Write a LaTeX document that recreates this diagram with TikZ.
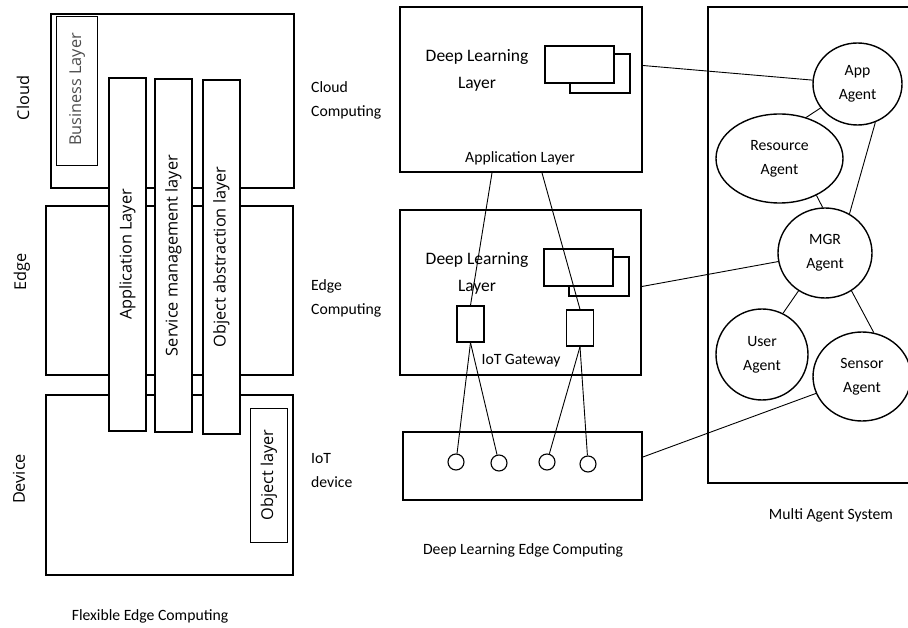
\documentclass[tikz,border=0pt]{standalone}
\usepackage{fontspec}
\setmainfont{Carlito}
\newfontfamily\opensans{Open Sans}
\usetikzlibrary{shapes.geometric,calc}
\tikzset{
  box/.style={draw, line width=1.8pt, inner sep=0pt},
  thinbox/.style={draw, line width=1pt, inner sep=0pt},
  bar/.style={draw, fill=white, line width=1.3pt, inner sep=0pt, rotate=90, font=\opensans\fontsize{16.3}{20}\selectfont},
  vlabel/.style={rotate=90, inner sep=0pt, font=\opensans\fontsize{16.3}{20}\selectfont},
  lbl/.style={align=left, inner sep=0pt, font=\fontsize{15.7}{24}\selectfont},
  dltext/.style={align=center, inner sep=0pt, font=\fontsize{17.5}{27}\selectfont},
  doc/.style={draw, fill=white, line width=1.6pt, inner sep=0pt},
  gw/.style={draw, line width=1.4pt, inner sep=0pt, minimum width=27pt, minimum height=36pt},
  port/.style={circle, draw, line width=1.1pt, minimum size=16pt, inner sep=0pt},
  agent/.style={ellipse, draw, line width=1.4pt, align=center, inner sep=0pt, font=\fontsize{15.7}{24}\selectfont},
  link/.style={line width=0.9pt}
}
\begin{document}
\begin{tikzpicture}[x=1pt,y=-1pt]
  \useasboundingbox (0,0) rectangle (908,628);
  \clip (0,0) rectangle (908,628);

  % flexible edge computing
  \node[box, minimum width=243, minimum height=174] (cloudbox) at (172.5,101) {};
  \node[box, minimum width=247, minimum height=169] (edgebox) at (169.5,290.5) {};
  \node[box, minimum width=247, minimum height=180] (devbox) at (169.5,485) {};
  \node[thinbox, minimum width=41, minimum height=149] (business) at (76.5,91.5) {};
  \node[vlabel, text=black!70] (businesstxt) at (77,89.5) {Business Layer};
  \node[thinbox, minimum width=37, minimum height=134] (objlayer) at (268.5,475) {};
  \node[vlabel] (objlayertxt) at (269,475) {Object layer};
  \node[bar, minimum width=353, minimum height=37] (appbar) at (127.5,254.5) {Application Layer};
  \node[bar, minimum width=353, minimum height=37] (svcbar) at (173.5,255.5) {Service management layer};
  \node[bar, minimum width=354, minimum height=37] (objbar) at (221.5,257) {Object abstraction layer};
  \node[vlabel] (cloudlbl) at (23,98) {Cloud};
  \node[vlabel] (edgelbl) at (22,272) {Edge};
  \node[vlabel] (devlbl) at (19,479) {Device};
  \node[lbl] (flexlbl) at (150,616) {Flexible Edge Computing};

  % deep learning edge computing
  \node[box, minimum width=242, minimum height=165] (cloudcomp) at (521,89.5) {};
  \node[box, minimum width=241, minimum height=165] (edgecomp) at (520.5,292.5) {};
  \node[box, minimum width=239, minimum height=68] (iotdev) at (522.5,466) {};
  \node[dltext] (dlcloud) at (477,70) {Deep Learning\\Layer};
  \node[dltext] (dledge) at (477,273) {Deep Learning\\Layer};
  \node[doc, minimum width=60, minimum height=39] (cloudbk) at (600,73.5) {};
  \node[doc, minimum width=69, minimum height=37] (cloudfr) at (579.5,64.5) {};
  \node[doc, minimum width=60, minimum height=39] (edgebk) at (599,276.5) {};
  \node[doc, minimum width=69, minimum height=37] (edgefr) at (578.5,267.5) {};
  \node[lbl] (applbl) at (520,158) {Application Layer};
  \node[gw] (gw1) at (470.5,324) {};
  \node[gw] (gw2) at (580,328) {};
  \node[lbl] (gwlbl) at (521,361) {IoT Gateway};
  \node[port] (p1) at (456,462) {};
  \node[port] (p2) at (499,463) {};
  \node[port] (p3) at (547,462) {};
  \node[port] (p4) at (588,464) {};
  \node[lbl, anchor=west] (cclbl) at (311,100) {Cloud\\Computing};
  \node[lbl, anchor=west] (eclbl) at (311,298) {Edge\\Computing};
  \node[lbl, anchor=west] (iotlbl) at (311,471) {IoT\\device};
  \node[lbl] (dleclbl) at (523,550) {Deep Learning Edge Computing};

  % multi agent system
  \node[box, minimum width=232, minimum height=476] (masbox) at (824,245) {};
  \node[agent, minimum width=89, minimum height=82] (app) at (857.5,84) {App\\Agent};
  \node[agent, minimum width=127, minimum height=89] (res) at (779.5,158.5) {Resource\\Agent};
  \node[agent, minimum width=94, minimum height=90] (mgr) at (825,253) {MGR\\Agent};
  \node[agent, minimum width=92, minimum height=91] (user) at (762,354.5) {User\\Agent};
  \node[agent, minimum width=98, minimum height=89] (sensor) at (862,376.5) {Sensor\\Agent};
  \node[lbl] (maslbl) at (831,515) {Multi Agent System};

  \draw[link] ([xshift=-29]cloudcomp.south) -- (gw1.north);
  \draw[link] ([xshift=21]cloudcomp.south) -- (gw2.north);
  \draw[link] (gw1.south) -- (p1);
  \draw[link] (gw1.south) -- (p2);
  \draw[link] (gw2.south) -- (p3);
  \draw[link] (gw2.south) -- (p4);
  \draw[link] ([yshift=24]cloudcomp.east) -- (app);
  \draw[link] ([yshift=6]edgecomp.east) -- (mgr);
  \draw[link] ([yshift=9]iotdev.east) -- (sensor);
  \draw[link] (app.213) -- (res.57);
  \draw[link] (app.295) -- (mgr.58);
  \draw[link] (res.-45) -- (mgr.93);
  \draw[link] (mgr.235) -- (user.63);
  \draw[link] (mgr.305) -- (sensor.75);
\end{tikzpicture}
\end{document}
